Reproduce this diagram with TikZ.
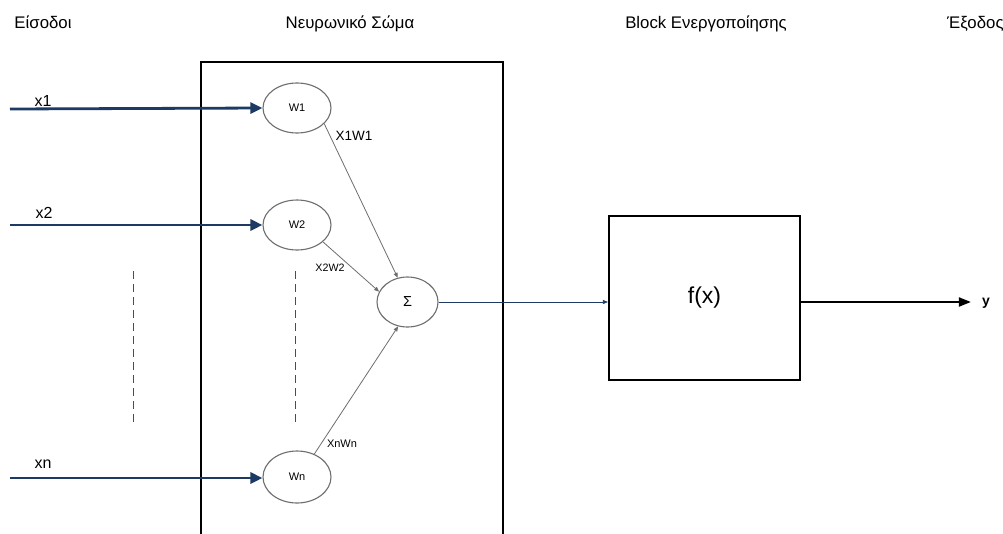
\documentclass[tikz,border=0pt]{standalone}
\usepackage{fontspec}
\setmainfont{Liberation Sans}
\usetikzlibrary{shapes.geometric,arrows.meta}
\definecolor{navy}{HTML}{1C3A63}
\definecolor{edgegray}{HTML}{6E6E6E}
\tikzset{
  title/.style={font=\fontsize{16.8}{18}\selectfont, inner sep=0pt, anchor=base},
  weight/.style={ellipse, draw=edgegray, line width=1.1pt, minimum width=68pt, minimum height=50pt, inner sep=0pt, font=\fontsize{11}{12}\selectfont},
  inarrow/.style={navy, line width=2.8pt, -{Triangle[length=12pt,width=11pt]}},
  prodline/.style={edgegray, line width=0.8pt, -{Triangle[length=5pt,width=4pt]}},
  prodlabel/.style={inner sep=0pt},
  inlabel/.style={font=\fontsize{16}{18}\selectfont, inner sep=0pt},
  gap/.style={dashed, dash pattern=on 8pt off 5pt, line width=0.8pt, black!70},
  frame/.style={draw=black, line width=2.2pt}
}
\begin{document}
\begin{tikzpicture}[x=1pt,y=-1pt]
\useasboundingbox (0,0) rectangle (1003,533);
\clip (0,0) rectangle (1003,533);
\fill[white] (0,0) rectangle (1003,533);

% column titles
\node[title] (tin)  at (43,28)  {Είσοδοι};
\node[title] (tbody) at (350,28) {Νευρωνικό Σώμα};
\node[title] (tact) at (706,28) {Block Ενεργοποίησης};
\node[title, anchor=base west] (tout) at (947,28) {Έξοδος};

% neural body frame (runs past the lower edge)
\draw[frame] (201,62) rectangle (503,560);

% weight nodes and summation
\node[weight] (w1) at (297,108) {W1};
\node[weight] (w2) at (297,225) {W2};
\node[weight, minimum height=52pt] (wn) at (297,477) {Wn};
\node[ellipse, draw=edgegray, line width=1.1pt, minimum width=61pt, minimum height=50pt, inner sep=0pt, font=\fontsize{14.5}{16}\selectfont] (sum) at (407.5,302) {Σ};

% activation block
\node[draw=black, line width=2.2pt, minimum width=191pt, minimum height=164pt, inner sep=0pt, font=\fontsize{23}{26}\selectfont] (fx) at (704.5,298) {f(x)};

% inputs
\coordinate (in1) at (10,109);
\coordinate (in2) at (10,225);
\coordinate (inn) at (10,478);
\draw[inarrow] (in1) -- (w1.west);
\draw[inarrow] (in2) -- (w2.west);
\draw[inarrow] (inn) -- (wn.west |- inn);
\node[inlabel] (lx1) at (43,101) {x1};
\node[inlabel] (lx2) at (44,213) {x2};
\node[inlabel] (lxn) at (43,464) {xn};

% weighted products into the sum
\draw[prodline] (w1.-30) -- (sum.112);
\draw[prodline] (w2.-33) -- (sum.160);
\draw[prodline] (wn.53) -- (sum.249);
\node[prodlabel, font=\fontsize{13.5}{15}\selectfont] (p1) at (354,136) {X1W1};
\node[prodlabel, font=\fontsize{10.7}{12}\selectfont] (p2) at (330,268) {X2W2};
\node[prodlabel, font=\fontsize{11}{12}\selectfont] (pn) at (342,444) {XnWn};

% elided inputs
\coordinate (d1a) at (133,271);
\coordinate (d1b) at (133,422);
\coordinate (d2a) at (295,271);
\coordinate (d2b) at (295,422);
\draw[gap] (d1a) -- (d1b);
\draw[gap] (d2a) -- (d2b);

% sum to activation, activation to output
\draw[navy, line width=0.7pt, -{Triangle[length=5pt,width=4pt]}] (sum.east) -- (fx.west |- sum.east);
\node[font=\fontsize{14}{16}\selectfont\bfseries, inner sep=0pt] (y) at (986,303) {y};
\draw[black, line width=2pt, -{Triangle[length=12pt,width=9pt]}] (fx.east |- sum.east) -- ([xshift=-11pt]y.west |- sum.east);
\end{tikzpicture}
\end{document}
